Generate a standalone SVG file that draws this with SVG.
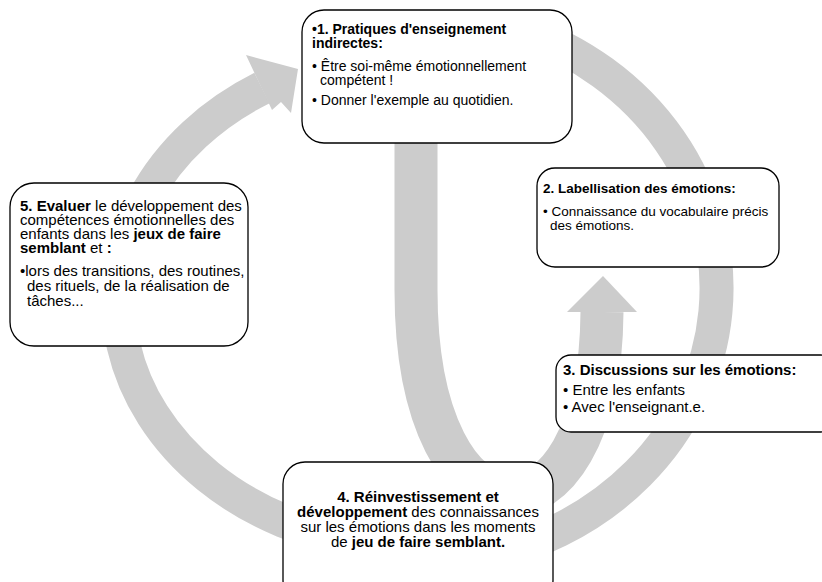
<svg xmlns="http://www.w3.org/2000/svg" width="822" height="582" viewBox="0 0 822 582">
<style>
.band{fill:none;stroke:#cccccc;stroke-width:34}
.head{fill:#cccccc}
.box{fill:#ffffff;stroke:#000000;stroke-width:1.3}
text{font-family:"Liberation Sans",Arial,sans-serif;font-size:15px;fill:#000000}
.s14{font-size:14px}
.s13{font-size:13.5px}
.b{font-weight:bold}
</style>
<rect x="0" y="0" width="822" height="582" fill="#ffffff"/>
<g id="connectors">
<path class="band" d="M 366.9 543.2 A 297 247 0 0 1 262 88"/>
<polygon class="head" points="246,55 298,69 291,113 281,102 272,110"/>
<path class="band" d="M 520 30 A 300 275 0 0 1 469.6 558.8"/>
<path class="band" style="stroke-width:43" d="M 416 130 L 416 290 C 416 560 600 560 602 312"/>
<polygon class="head" points="567,312 603,276 637,312"/>
</g>
<g id="node1">
<rect class="box" x="302" y="10" width="270" height="133" rx="22"/>
<text x="312" y="34" class="b s14">•1. Pratiques d'enseignement</text>
<text x="312" y="48" class="b s14">indirectes:</text>
<text x="312" y="71" class="s14">• Être soi-même émotionnellement</text>
<text x="320" y="85" class="s14">compétent !</text>
<text x="312" y="105" class="s14">• Donner l'exemple au quotidien.</text>
</g>
<g id="node2">
<rect class="box" x="537" y="168" width="242" height="99" rx="18"/>
<text x="543" y="193" class="b s13">2. Labellisation des émotions:</text>
<text x="543" y="216" class="s13">• Connaissance du vocabulaire précis</text>
<text x="550" y="230" class="s13">des émotions.</text>
</g>
<g id="node3">
<rect class="box" x="556" y="355" width="280" height="77" rx="15"/>
<text x="563" y="375" class="b">3. Discussions sur les émotions:</text>
<text x="563" y="395">• Entre les enfants</text>
<text x="563" y="412">• Avec l'enseignant.e.</text>
</g>
<g id="node4">
<rect class="box" x="283" y="462" width="270" height="140" rx="22"/>
<text x="418" y="502" text-anchor="middle"><tspan class="b">4. Réinvestissement et</tspan></text>
<text x="418" y="517" text-anchor="middle"><tspan class="b">développement</tspan> des connaissances</text>
<text x="418" y="532" text-anchor="middle">sur les émotions dans les moments</text>
<text x="418" y="547" text-anchor="middle">de <tspan class="b">jeu de faire semblant.</tspan></text>
</g>
<g id="node5">
<rect class="box" x="10" y="183" width="238" height="163" rx="24"/>
<text x="20" y="211"><tspan class="b">5. Evaluer</tspan> le développement des</text>
<text x="20" y="225">compétences émotionnelles  des</text>
<text x="20" y="239">enfants dans les <tspan class="b">jeux de faire</tspan></text>
<text x="20" y="253"><tspan class="b">semblant</tspan> et <tspan class="b">:</tspan></text>
<text x="20" y="276">•lors des transitions, des routines,</text>
<text x="27" y="291">des rituels, de la réalisation de</text>
<text x="27" y="306">tâches...</text>
</g>
</svg>
